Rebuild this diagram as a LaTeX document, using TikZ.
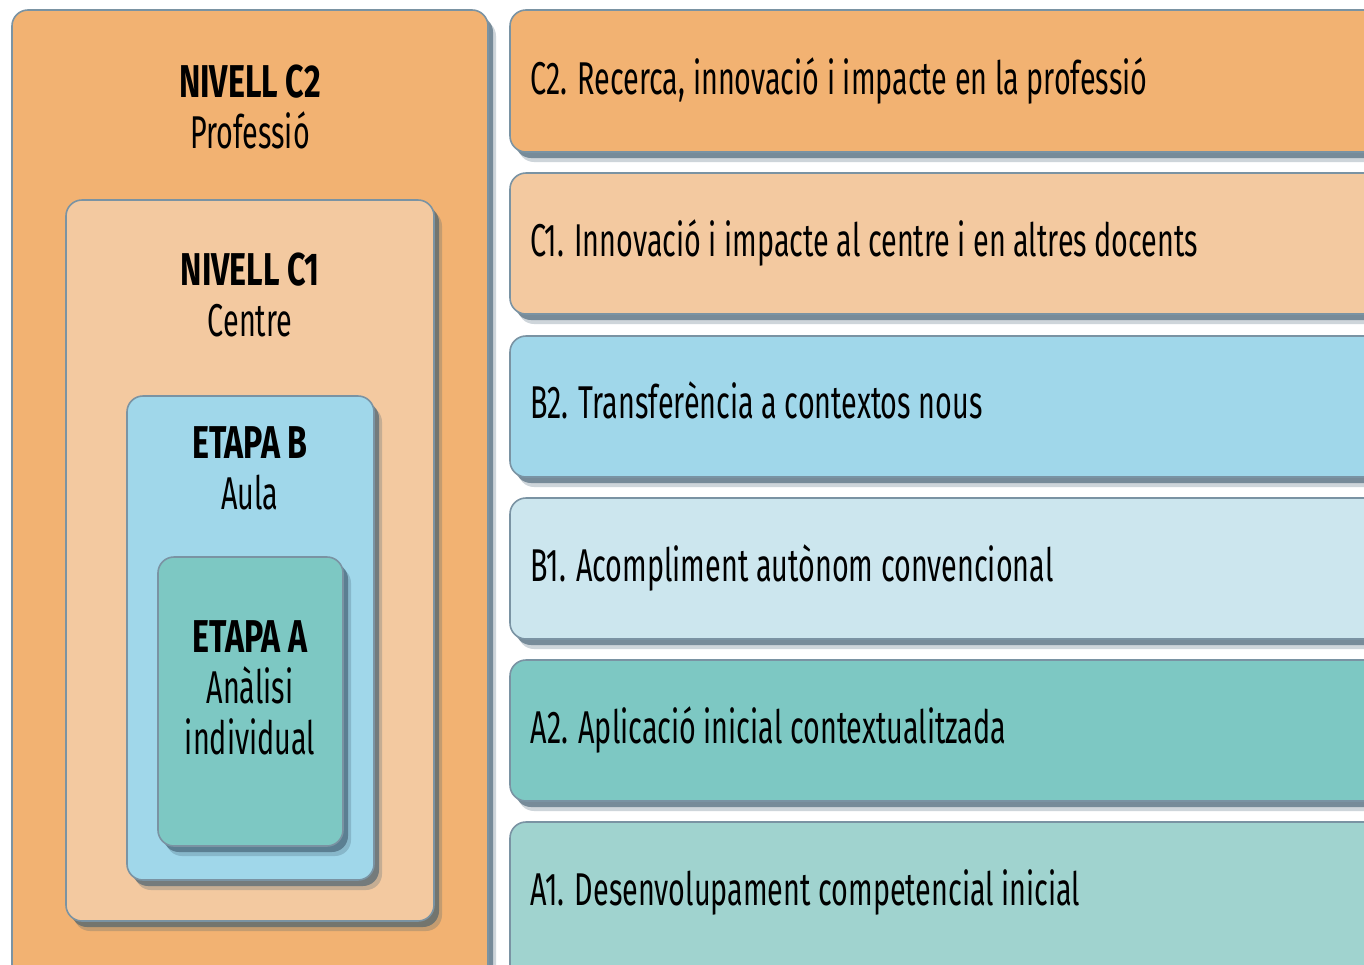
\documentclass[tikz,border=0pt]{standalone}
\usepackage{fontspec}
\setmainfont{Fira Sans}[FakeStretch=0.625, BoldFeatures={FakeStretch=0.7}]
\usetikzlibrary{shadows}

\definecolor{orangedark}{HTML}{F2B272}
\definecolor{orangelight}{HTML}{F3C9A0}
\definecolor{bluedark}{HTML}{A0D7EA}
\definecolor{bluelight}{HTML}{CCE6EE}
\definecolor{tealdark}{HTML}{7DC8C3}
\definecolor{teallight}{HTML}{A0D3CF}
\definecolor{edgec}{HTML}{7A93A3}
\definecolor{shadowc}{HTML}{3E5B6E}

\begin{document}
\begin{tikzpicture}[x=0.5pt,y=-0.5pt,
    box/.style={draw=edgec, line width=0.8pt, rounded corners=8pt,
      drop shadow={fill=shadowc, opacity=.25, shadow xshift=4pt, shadow yshift=-5pt},
      drop shadow={fill=shadowc, opacity=.6, shadow xshift=2.5pt, shadow yshift=-3pt}},
    title/.style={anchor=base, inner sep=0pt, font=\fontsize{23}{27}\selectfont\bfseries},
    sub/.style={anchor=base, inner sep=0pt, font=\fontsize{23}{27}\selectfont},
    bartext/.style={anchor=base west, inner sep=0pt, font=\fontsize{23}{27}\selectfont}]
	\useasboundingbox (0,0) rectangle (1364,964);
	\fill[white] (0,0) rectangle (1364,964);
	% nested levels on the left
	\draw[box, fill=orangedark] (12,10) rectangle (488,1000);
	\node[title] (c2title) at (250,97) {NIVELL C2};
	\node[sub] (c2sub) at (250,148) {Professió};
	\draw[box, fill=orangelight] (66,200) rectangle (434,921);
	\node[title] (c1title) at (250,285) {NIVELL C1};
	\node[sub] (c1sub) at (250,336) {Centre};
	\draw[box, fill=bluedark] (127,396) rectangle (374,880);
	\node[title] (btitle) at (250,458) {ETAPA B};
	\node[sub] (bsub) at (250,509) {Aula};
	\draw[box, fill=tealdark] (158,557) rectangle (343,846);
	\node[title] (atitle) at (250,652) {ETAPA A};
	\node[sub] (asub) at (250,703) {Anàlisi};
	\node[sub] (asubb) at (250,754) {individual};
	% bars on the right
	\draw[box, fill=orangedark] (510,10) rectangle (1420,152);
	\node[bartext] (c2bar) at (530,94) {C2. Recerca, innovació i impacte en la professió};
	\draw[box, fill=orangelight] (510,173) rectangle (1420,314);
	\node[bartext] (c1bar) at (530,256) {C1. Innovació i impacte al centre i en altres docents};
	\draw[box, fill=bluedark] (510,336) rectangle (1420,477);
	\node[bartext] (b2bar) at (530,418) {B2. Transferència a contextos nous};
	\draw[box, fill=bluelight] (510,498) rectangle (1420,639);
	\node[bartext] (b1bar) at (530,581) {B1. Acompliment autònom convencional};
	\draw[box, fill=tealdark] (510,660) rectangle (1420,801);
	\node[bartext] (a2bar) at (530,743) {A2. Aplicació inicial contextualitzada};
	\draw[box, fill=teallight] (510,822) rectangle (1420,1000);
	\node[bartext] (a1bar) at (530,905) {A1. Desenvolupament competencial inicial};
\end{tikzpicture}
\end{document}
